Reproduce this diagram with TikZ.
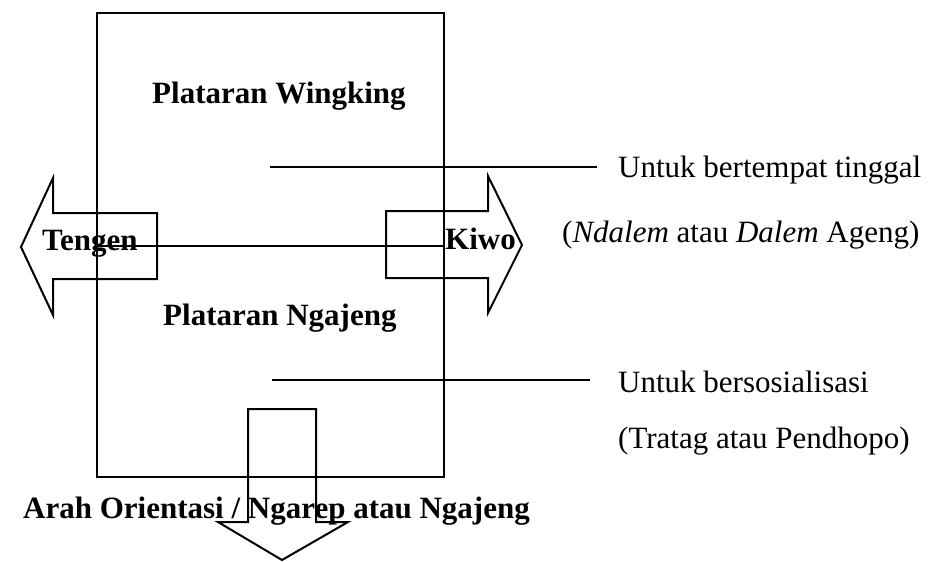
\documentclass[tikz,border=0pt]{standalone}
\usepackage{fontspec}
\setmainfont{Liberation Serif}
\begin{document}
\begin{tikzpicture}[x=1pt,y=-1pt,
  lbl/.style={inner sep=0pt, anchor=base west, font=\fontsize{31}{36}\selectfont},
  blbl/.style={inner sep=0pt, anchor=base west, font=\fontsize{31}{36}\selectfont\bfseries},
  outline/.style={draw=black, line width=2pt, line join=miter},
  leader/.style={draw=black, line width=2pt}]
\useasboundingbox (0,0) rectangle (930,562);
\fill[white] (0,0) rectangle (930,562);
% main plan rectangle
\draw[outline] (97,13) rectangle (444,477);
% left arrow (Tengen)
\draw[outline] (157,213) -- (53,213) -- (53,178) -- (21,247) -- (53,315) -- (53,279) -- (157,279) -- cycle;
% right arrow (Kiwo)
\draw[outline] (386,211) -- (488,211) -- (488,176) -- (522,245) -- (488,313) -- (488,278) -- (386,278) -- cycle;
% down arrow (orientation)
\draw[outline] (248,409) -- (316,409) -- (316,522) -- (348,522) -- (282,560) -- (218,522) -- (248,522) -- cycle;
% dividing line
\coordinate (divL) at (97,246);
\coordinate (divR) at (444,246);
\draw[leader] (divL) -- (divR);
% labels
\node[blbl] (wingking) at (152,103) {Plataran Wingking};
\node[blbl] (ngajeng) at (163,325) {Plataran Ngajeng};
\node[blbl] (tengen) at (42,250) {Tengen};
\node[blbl] (kiwo) at (445,249) {Kiwo};
\node[blbl] (arah) at (23,518) {Arah Orientasi / Ngarep atau Ngajeng};
\node[lbl] (u1) at (618,177) {Untuk bertempat tinggal};
\node[lbl] (u1b) at (562,242) {(\textit{Ndalem} atau \textit{Dalem} Ageng)};
\node[lbl] (u2) at (618,392) {Untuk bersosialisasi};
\node[lbl] (u2b) at (618,448) {(Tratag atau Pendhopo)};
% leader lines
\coordinate (l1a) at (270,167);
\coordinate (l1b) at (597,167);
\draw[leader] (l1a) -- (l1b);
\coordinate (l2a) at (272,380);
\coordinate (l2b) at (590,380);
\draw[leader] (l2a) -- (l2b);
\end{tikzpicture}
\end{document}
